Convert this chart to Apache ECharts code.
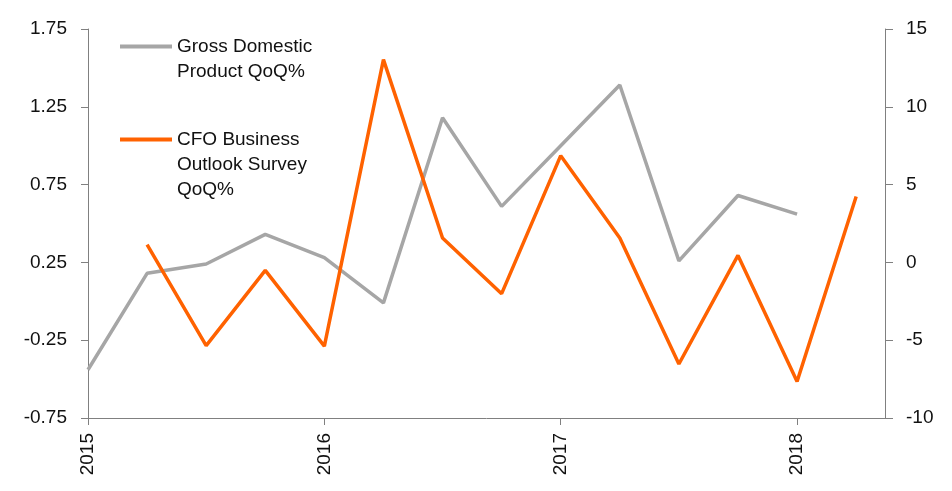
<!DOCTYPE html>
<html>
<head>
<meta charset="utf-8">
<script src="https://cdn.jsdelivr.net/npm/echarts@6/dist/echarts.min.js"></script>
<style>
html,body{margin:0;padding:0;background:#fff;}
#chart{width:952px;height:491px;}
</style>
</head>
<body>
<div id="chart"></div>
<script>
// Quarters (x), values
const quarters = ["2015 Q1","2015 Q2","2015 Q3","2015 Q4","2016 Q1","2016 Q2","2016 Q3","2016 Q4","2017 Q1","2017 Q2","2017 Q3","2017 Q4","2018 Q1","2018 Q2"];
const gdpQoQ = [-0.44, 0.18, 0.24, 0.43, 0.28, -0.01, 1.18, 0.61, 1.00, 1.39, 0.26, 0.68, 0.56, null];
const cfoQoQ = [null, 1.14, -5.35, -0.51, -5.38, 13.03, 1.57, -2.01, 6.86, 1.57, -6.53, 0.45, -7.65, 4.24];
const xTickLabels = [2015, 2016, 2017, 2018];
const seriesNames = ["Gross Domestic\nProduct QoQ%", "CFO Business\nOutlook Survey\nQoQ%"];

function qToX(q){ const p=q.split(" Q"); return +p[0] + (+p[1]-1)/4; }
const gdpData = quarters.map((q,i)=>[qToX(q), gdpQoQ[i]]).filter(d=>d[1]!==null);
const cfoData = quarters.map((q,i)=>[qToX(q), cfoQoQ[i]]).filter(d=>d[1]!==null);

const FONT = "'Liberation Sans', Arial, sans-serif";
const AXIS_COLOR = "#808080";
const TEXT_COLOR = "#111111";

const chart = echarts.init(document.getElementById('chart'), null, {renderer:'canvas'});
chart.setOption({
  animation:false,
  backgroundColor:'#fff',
  textStyle:{fontFamily:FONT},
  grid:{left:88, right:67, top:29, bottom:73, containLabel:false},
  legend:{
    orient:'vertical', left:120, top:9, padding:0, itemGap:-7,
    itemWidth:52, itemHeight:4, icon:'rect',
    textStyle:{fontSize:19, color:TEXT_COLOR, lineHeight:25, fontFamily:FONT},
    formatter:function(name){
      return name.indexOf('CFO')===0 ? '\n\n'+name : '\n'+name;
    },
    data:seriesNames
  },
  xAxis:{
    type:'value', min:2015, max:2018.372, interval:1,
    splitLine:{show:false},
    axisLine:{onZero:false, lineStyle:{color:AXIS_COLOR, width:1}},
    axisTick:{show:true, length:7, lineStyle:{color:AXIS_COLOR}, customValues:xTickLabels},
    axisLabel:{rotate:90, margin:15, fontSize:19, color:TEXT_COLOR, fontFamily:FONT, customValues:xTickLabels,
      formatter:v=>String(v)}
  },
  yAxis:[{
    type:'value', position:'left', min:-0.75, max:1.75, interval:0.5,
    splitLine:{show:false},
    axisLine:{show:true, lineStyle:{color:AXIS_COLOR}},
    axisTick:{show:true, length:7, lineStyle:{color:AXIS_COLOR}},
    axisLabel:{margin:21, fontSize:19, color:TEXT_COLOR, fontFamily:FONT, formatter:v=>v.toFixed(2)}
  },{
    type:'value', position:'right', min:-10, max:15, interval:5,
    splitLine:{show:false},
    axisLine:{show:true, lineStyle:{color:AXIS_COLOR}},
    axisTick:{show:true, length:8, lineStyle:{color:AXIS_COLOR}},
    axisLabel:{margin:21, fontSize:19, color:TEXT_COLOR, fontFamily:FONT}
  }],
  series:[{
    name:seriesNames[0], type:'line', yAxisIndex:0, data:gdpData,
    symbol:'none', lineStyle:{color:'#A6A6A6', width:3.5}, itemStyle:{color:'#A6A6A6'}
  },{
    name:seriesNames[1], type:'line', yAxisIndex:1, data:cfoData,
    symbol:'none', lineStyle:{color:'#FF6200', width:3.5}, itemStyle:{color:'#FF6200'}
  }]
});
</script>
</body>
</html>
